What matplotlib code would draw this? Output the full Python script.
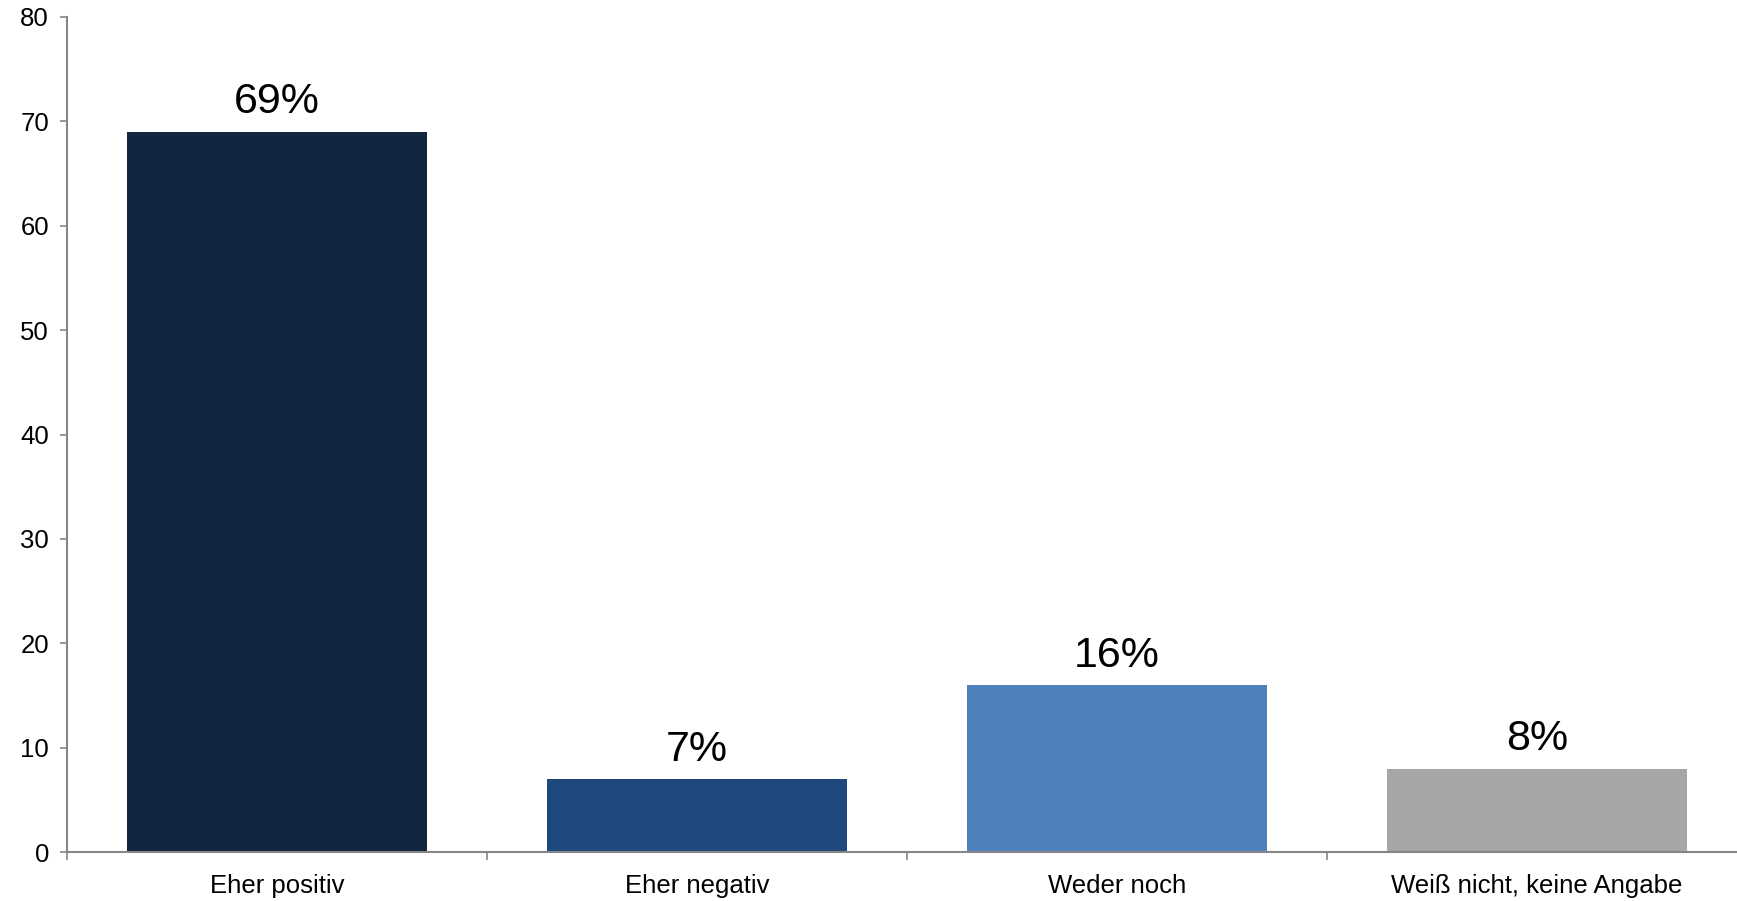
import matplotlib
matplotlib.use("Agg")
import matplotlib.pyplot as plt
import numpy as np

categories = ["Eher positiv", "Eher negativ", "Weder noch", "Weiß nicht, keine Angabe"]
values = [69, 7, 16, 8]
labels = ["69%", "7%", "16%", "8%"]
colors = ["#13263F", "#1F497D", "#4F81BD", "#A6A6A6"]

plt.rcParams['font.family'] = ['Liberation Sans', 'DejaVu Sans']

fig = plt.figure(figsize=(17.37, 9.01), dpi=100)
# axes runs a little past the right edge, like the original
ax = fig.add_axes([67 / 1737, 49 / 901, 1680 / 1737, 835 / 901])

x = np.arange(len(categories))
ax.bar(x, values, width=0.714, color=colors)

for xi, v, lab in zip(x, values, labels):
    ax.text(xi, v + 0.9, lab, ha="center", va="bottom", fontsize=31)

ax.set_xlim(-0.5, 3.5)
ax.set_ylim(0, 80)
ax.set_yticks(range(0, 81, 10))

ax.set_xticks(x)
ax.set_xticklabels(categories, fontsize=18.5)
ax.set_xticks(np.arange(-0.5, 3.6, 1), minor=True)
ax.tick_params(axis="x", which="major", length=0, pad=16)
ax.tick_params(axis="x", which="minor", length=6, width=1.2, color="#868686", direction="out")
ax.tick_params(axis="y", length=5, width=1.2, color="#868686", labelsize=18.5, pad=8)

for side in ["top", "right"]:
    ax.spines[side].set_visible(False)
for side in ["left", "bottom"]:
    ax.spines[side].set_color("#868686")
    ax.spines[side].set_linewidth(1.5)

fig.savefig("out.png", dpi=100)
